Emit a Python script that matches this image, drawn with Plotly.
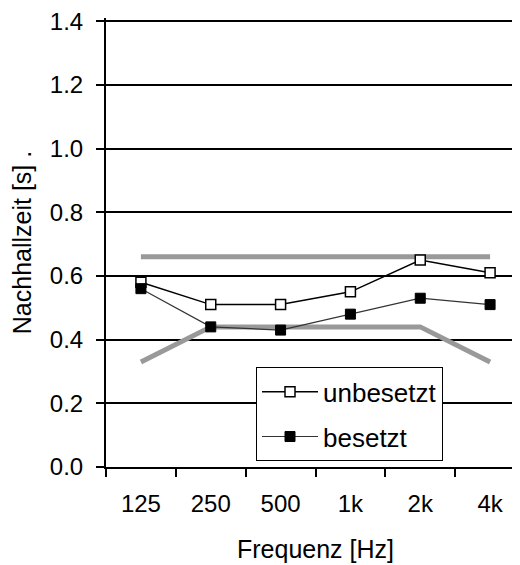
import plotly.graph_objects as go

freq = ["125", "250", "500", "1k", "2k", "4k"]
unbesetzt = [0.58, 0.51, 0.51, 0.55, 0.65, 0.61]
besetzt = [0.56, 0.44, 0.43, 0.48, 0.53, 0.51]
upper_limit = [0.66, 0.66, 0.66, 0.66, 0.66, 0.66]
lower_limit = [0.33, 0.44, 0.44, 0.44, 0.44, 0.33]
y_ticks = [0.0, 0.2, 0.4, 0.6, 0.8, 1.0, 1.2, 1.4]

FONT = "Liberation Sans, Arial, sans-serif"

fig = go.Figure()
fig.add_trace(go.Scatter(x=freq, y=upper_limit, mode="lines", showlegend=False,
                         line=dict(color="#999999", width=5), hoverinfo="skip"))
fig.add_trace(go.Scatter(x=freq, y=lower_limit, mode="lines", showlegend=False,
                         line=dict(color="#999999", width=5), hoverinfo="skip"))
fig.add_trace(go.Scatter(x=freq, y=unbesetzt, mode="lines+markers", name="unbesetzt",
                         legendgroup="a",
                         line=dict(color="black", width=1.5),
                         marker=dict(symbol="square", size=10, color="white",
                                     line=dict(color="black", width=1.5))))
fig.add_trace(go.Scatter(x=freq, y=besetzt, mode="lines+markers", name="besetzt",
                         legendgroup="b",
                         line=dict(color="#333333", width=1.2),
                         marker=dict(symbol="square", size=10, color="black",
                                     line=dict(color="black", width=1))))

fig.update_layout(
    width=520, height=565,
    margin=dict(l=98, r=3, t=10, b=106, autoexpand=False),
    paper_bgcolor="white", plot_bgcolor="white",
    font=dict(family=FONT, size=24, color="black"),
    showlegend=True,
    legend=dict(x=0.358, y=0.222, xanchor="left", yanchor="top",
                bgcolor="white", bordercolor="black", borderwidth=1,
                font=dict(size=26), tracegroupgap=8, itemwidth=56),
    xaxis=dict(type="category", range=[-0.5, 5.5], tickson="boundaries",
               ticks="outside", ticklen=8, tickwidth=1.5, tickcolor="black",
               showgrid=False, showline=True, linecolor="black", linewidth=2,
               automargin=False,
               tickfont=dict(size=24), ticklabelstandoff=14,
               title=dict(text="Frequenz [Hz]", font=dict(size=25), standoff=25)),
    yaxis=dict(range=[0, 1.41], tickvals=y_ticks, ticktext=[f"{v:.1f}" for v in y_ticks],
               ticks="outside", ticklen=8, tickwidth=1.5, tickcolor="black",
               showgrid=True, gridcolor="black", gridwidth=1.5,
               showline=True, linecolor="black", linewidth=2, zeroline=False,
               automargin=False, ticklabeloverflow="allow",
               tickfont=dict(size=24), ticklabelstandoff=8,
               title=dict(text="Nachhallzeit [s] .", font=dict(size=25), standoff=12)),
)

fig.write_html("out.html")
